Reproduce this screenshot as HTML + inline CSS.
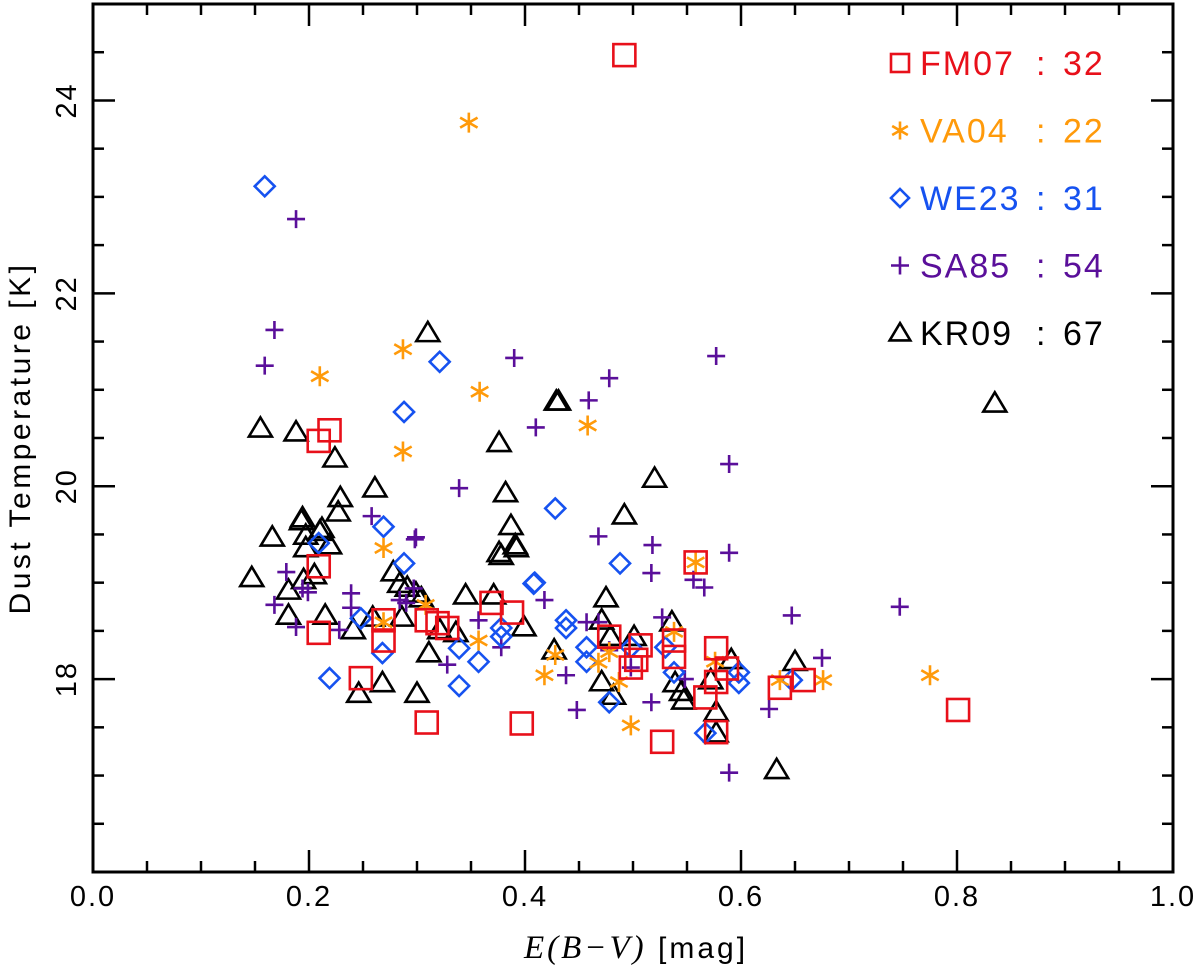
<!DOCTYPE html>
<html><head><meta charset="utf-8"><style>
html,body{margin:0;padding:0;background:#fff;}
svg{display:block;font-family:"Liberation Sans",sans-serif;}
</style></head><body>
<svg id="chart" width="1200" height="979" viewBox="0 0 1200 979" xmlns="http://www.w3.org/2000/svg"></svg>
<script>
const xTicks=[0.0,0.2,0.4,0.6,0.8,1.0];
const xTickLabels=["0.0","0.2","0.4","0.6","0.8","1.0"];
const yTicks=[18,20,22,24];
const yTickLabels=["18","20","22","24"];
const fmX=[.492,.219,.209,.209,.209,.269,.269,.248,.309,.319,.328,.309,.369,.388,.397,.478,.498,.507,.558,.538,.538,.577,.587,.577,.567,.577,.527,.636,.658,.801,.503];
const fmY=[24.47,20.58,20.47,19.17,18.48,18.61,18.40,18.01,18.61,18.58,18.53,17.55,18.79,18.69,17.54,18.44,18.12,18.35,19.21,18.40,18.23,18.32,18.11,17.97,17.81,17.45,17.35,17.91,17.99,17.68,18.20];
const vaX=[.348,.287,.210,.358,.287,.458,.269,.308,.269,.357,.418,.428,.468,.478,.487,.498,.538,.558,.576,.636,.676,.775];
const vaY=[23.77,21.42,21.14,20.98,20.36,20.63,19.36,18.77,18.59,18.40,18.04,18.25,18.17,18.28,17.97,17.52,18.49,19.21,18.18,17.99,17.99,18.04];
const weX=[.159,.321,.288,.428,.488,.409,.269,.288,.209,.248,.268,.219,.408,.378,.378,.339,.357,.339,.438,.438,.457,.457,.478,.498,.530,.538,.598,.598,.567,.647];
const weY=[23.11,21.29,20.77,19.77,19.20,19.00,19.58,19.20,19.41,18.63,18.27,18.01,18.99,18.53,18.44,18.32,18.18,17.93,18.61,18.53,18.33,18.18,17.76,18.33,18.33,18.07,18.07,17.96,17.44,17.99];
const saX=[.188,.168,.159,.390,.577,.478,.459,.410,.589,.339,.468,.299,.518,.589,.556,.566,.647,.747,.675,.626,.589,.258,.298,.179,.194,.199,.239,.239,.168,.188,.228,.290,.297,.328,.357,.378,.418,.438,.448,.457,.468,.517,.527,.517,.498,.284,.478,.548];
const saY=[22.77,21.62,21.25,21.33,21.35,21.12,20.89,20.61,20.23,19.98,19.48,19.47,19.39,19.31,19.03,18.95,18.66,18.75,18.22,17.69,17.03,19.69,19.45,19.11,18.94,18.90,18.89,18.74,18.77,18.54,18.51,18.79,18.94,18.15,18.61,18.33,18.82,18.04,17.68,18.59,18.59,19.10,18.64,17.76,18.12,18.82,18.30,18.00];
const krX=[.310,.429,.431,.376,.520,.492,.835,.155,.188,.224,.261,.229,.227,.382,.387,.391,.376,.166,.193,.197,.210,.147,.194,.212,.197,.219,.205,.195,.181,.278,.291,.304,.181,.215,.241,.286,.259,.311,.268,.246,.300,.336,.321,.284,.299,.345,.371,.399,.427,.378,.392,.475,.471,.479,.501,.471,.482,.536,.539,.545,.547,.572,.577,.577,.591,.650,.633];
const krY=[21.59,20.88,20.88,20.45,20.08,19.70,20.86,20.60,20.56,20.29,19.98,19.88,19.73,19.93,19.59,19.39,19.31,19.47,19.64,19.49,19.53,19.05,19.67,19.56,19.36,19.39,19.08,19.03,18.92,19.11,18.95,18.84,18.66,18.66,18.51,18.64,18.64,18.27,17.96,17.85,17.85,18.48,18.51,18.99,18.89,18.87,18.87,18.54,18.30,19.28,19.36,18.84,18.61,18.44,18.44,17.97,17.83,18.59,17.96,17.87,17.78,17.99,17.66,17.44,18.20,18.18,17.06];
const legendNames=["FM07","VA04","WE23","SA85","KR09"];
const legendCounts=["32","22","31","54","67"];

const NS="http://www.w3.org/2000/svg";
const svg=document.getElementById('chart');
const L=93,R=1173,T=4,B=872,X0=0,X1=1,Y0=16,Y1=25;
const sx=v=>L+(v-X0)/(X1-X0)*(R-L);
const sy=v=>B-(v-Y0)/(Y1-Y0)*(B-T);
function mk(tag,attrs,parent){const e=document.createElementNS(NS,tag);for(const k in attrs)e.setAttribute(k,attrs[k]);(parent||svg).appendChild(e);return e;}
const COL={sq:"#e8101a",ast:"#ff9a0a",dia:"#1652f0",plus:"#5a0f9a",tri:"#000"};
function marker(type,cx,cy,s,g){
  const c=COL[type],w=2.6;let e;
  if(type==='sq'){e=mk('rect',{x:cx-s,y:cy-s,width:2*s,height:2*s,fill:'none',stroke:c,'stroke-width':w},g);}
  else if(type==='dia'){e=mk('path',{d:`M${cx} ${cy-s}L${cx+s} ${cy}L${cx} ${cy+s}L${cx-s} ${cy}Z`,fill:'none',stroke:c,'stroke-width':w},g);}
  else if(type==='tri'){const h=s*1.1;e=mk('path',{d:`M${cx} ${cy-h}L${cx+s*1.15} ${cy+h*0.75}L${cx-s*1.15} ${cy+h*0.75}Z`,fill:'none',stroke:c,'stroke-width':w,'stroke-linejoin':'miter'},g);}
  else if(type==='plus'){e=mk('path',{d:`M${cx-s} ${cy}H${cx+s}M${cx} ${cy-s}V${cy+s}`,fill:'none',stroke:c,'stroke-width':w},g);}
  else {const a=s*0.87,b=s*0.5;e=mk('path',{d:`M${cx} ${cy-s}V${cy+s}M${cx-a} ${cy-b}L${cx+a} ${cy+b}M${cx-a} ${cy+b}L${cx+a} ${cy-b}`,fill:'none',stroke:c,'stroke-width':w},g);}
  return e;
}
const box=mk('rect',{x:L,y:T,width:R-L,height:B-T,fill:'none',stroke:'#000','stroke-width':3});


const ticks=mk('g',{stroke:'#000','stroke-width':2.5});


for(let i=0;i<=20;i++){const v=i*0.05,x=sx(v),len=(i%4===0)?22:11;
  mk('line',{x1:x,y1:B,x2:x,y2:B-len},ticks);mk('line',{x1:x,y1:T,x2:x,y2:T+len},ticks);}
for(let i=0;i<=18;i++){const v=16+i*0.5,y=sy(v),len=(i%4===0)?22:11;
  mk('line',{x1:L,y1:y,x2:L+len,y2:y},ticks);mk('line',{x1:R,y1:y,x2:R-len,y2:y},ticks);}
xTicks.forEach((v,i)=>{const t=mk('text',{x:sx(v),y:906,'text-anchor':'middle','font-size':29,'letter-spacing':'2'});t.textContent=xTickLabels[i];
  
  });
yTicks.forEach((v,i)=>{const y=sy(v);const t=mk('text',{x:0,y:0,'text-anchor':'middle','font-size':29,'letter-spacing':'2',transform:`translate(76 ${y}) rotate(-90)`});t.textContent=yTickLabels[i];
  
  });
const yt=mk('text',{x:0,y:0,'text-anchor':'middle','font-size':30,transform:`translate(30 ${sy(20.5)}) rotate(-90)`,'letter-spacing':'3.5'});
yt.textContent='Dust Temperature [K]';


const xt=mk('text',{x:636,y:958,'text-anchor':'middle','font-size':30,'letter-spacing':'3'});
xt.innerHTML='<tspan font-family="Liberation Serif, serif" font-style="italic" font-size="33">E(B−V)</tspan> [mag]';


const series=[['tri',krX,krY,10,'kr09'],['plus',saX,saY,9,'sa85'],['dia',weX,weY,10,'we23'],['ast',vaX,vaY,10,'va04'],['sq',fmX,fmY,11,'fm07']];
series.forEach(([t,xs,ys,s,n])=>{const g=mk('g',{});
  
  
  xs.forEach((v,i)=>{const m=marker(t,sx(v),sy(ys[i]),s,g);
    
    });});
const lt=['sq','ast','dia','plus','tri'];
legendNames.forEach((nm,i)=>{const y=63+i*67.5;const g=mk('g',{});
  
  
  marker(lt[i],900,y,9,g);
  const tx=mk('text',{x:920,y:y+12,'font-size':34,'letter-spacing':'2',fill:COL[lt[i]]},g);tx.textContent=nm;
  const c=mk('text',{x:1036,y:y+12,'font-size':34,fill:COL[lt[i]]},g);c.textContent=':';
  const n=mk('text',{x:1063,y:y+12,'font-size':34,'letter-spacing':'2',fill:COL[lt[i]]},g);n.textContent=legendCounts[i];});
</script>
</body></html>
